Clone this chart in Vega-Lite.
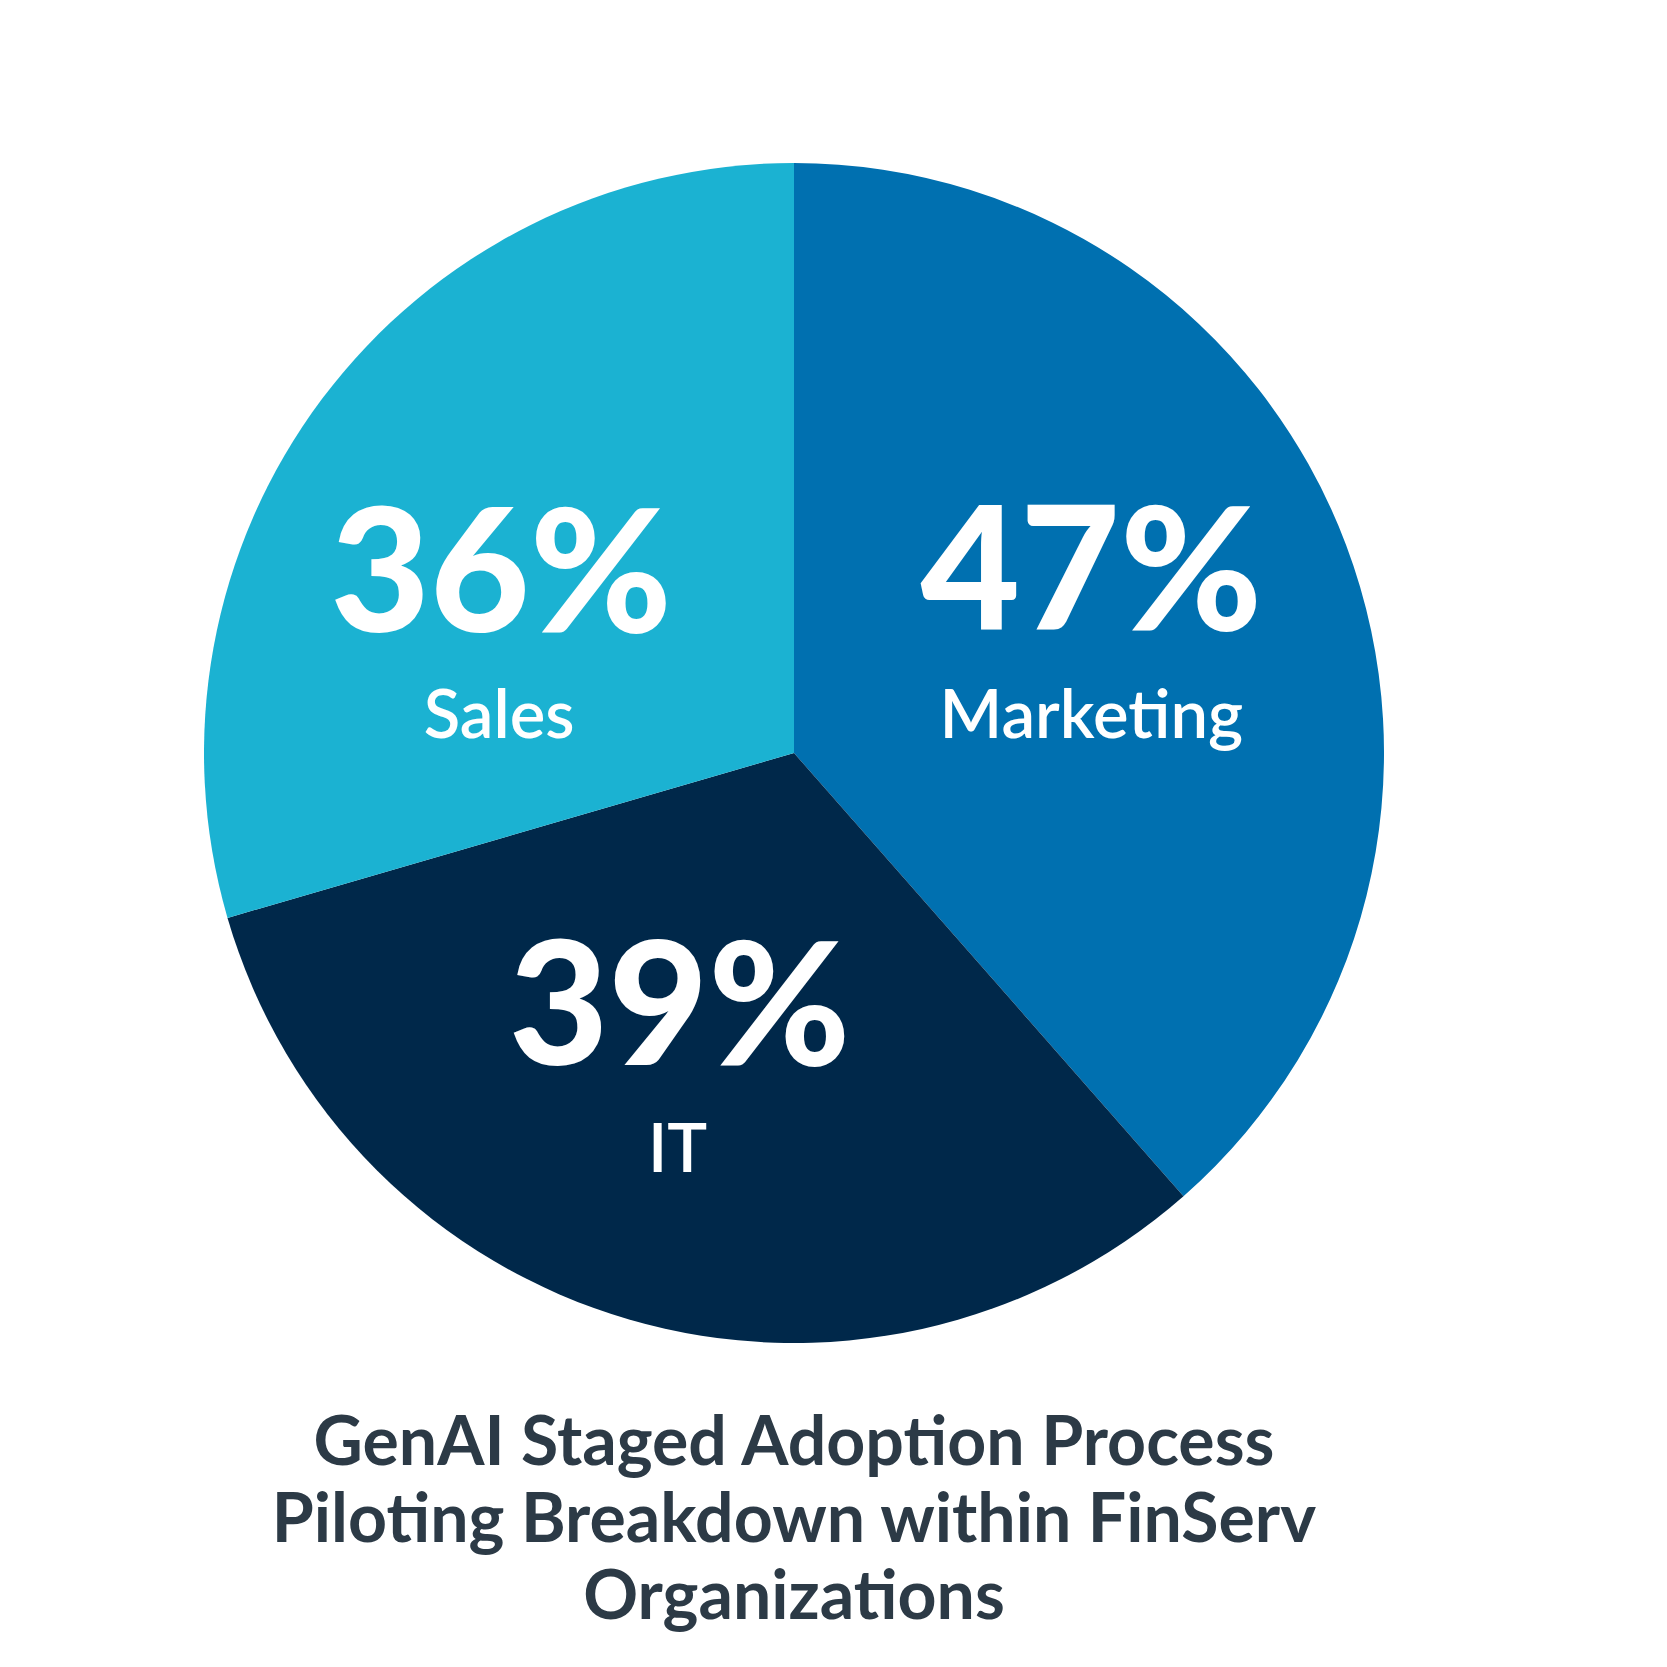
{
  "$schema": "https://vega.github.io/schema/vega-lite/v6.json",
  "width": 1180,
  "height": 1180,
  "padding": {"left": 204, "top": 163, "right": 0, "bottom": 0},
  "background": "white",
  "config": {"view": {"stroke": null}},
  "title": {
    "text": ["GenAI Staged Adoption Process", "Piloting Breakdown within FinServ", "Organizations"],
    "orient": "bottom",
    "anchor": "middle",
    "offset": 68,
    "font": "Lato",
    "fontSize": 68,
    "fontWeight": "bold",
    "lineHeight": 77,
    "color": "#2c3a46"
  },
  "data": {
    "values": [
      {"category": "Marketing", "pct": 0.47},
      {"category": "IT", "pct": 0.39},
      {"category": "Sales", "pct": 0.36}
    ]
  },
  "encoding": {
    "theta": {"field": "pct", "type": "quantitative", "stack": true},
    "order": {"field": "pct", "type": "quantitative", "sort": "descending"}
  },
  "layer": [
    {
      "mark": {"type": "arc", "stroke": null},
      "encoding": {
        "color": {
          "field": "category",
          "type": "nominal",
          "scale": {"domain": ["Marketing", "IT", "Sales"], "range": ["#0070b0", "#00284a", "#1bb2d2"]},
          "legend": null
        }
      }
    },
    {
      "mark": {"type": "text", "radius": 320, "dx": -2, "dy": -10, "font": "Lato", "fontSize": 172, "fontWeight": 900, "align": "center", "baseline": "alphabetic", "fill": "white"},
      "encoding": {"text": {"condition": {"test": "datum.category === 'Marketing'", "field": "pct", "format": ".0%"}, "value": ""}}
    },
    {
      "mark": {"type": "text", "radius": 320, "dx": -2, "dy": 98, "font": "Lato", "fontSize": 67, "fontWeight": 600, "align": "center", "baseline": "alphabetic", "fill": "white"},
      "encoding": {"text": {"condition": {"test": "datum.category === 'Marketing'", "field": "category"}, "value": ""}}
    },
    {
      "mark": {"type": "text", "radius": 320, "dx": -25, "dy": 5, "font": "Lato", "fontSize": 172, "fontWeight": 900, "align": "center", "baseline": "alphabetic", "fill": "white"},
      "encoding": {"text": {"condition": {"test": "datum.category === 'IT'", "field": "pct", "format": ".0%"}, "value": ""}}
    },
    {
      "mark": {"type": "text", "radius": 320, "dx": -27, "dy": 112, "font": "Lato", "fontSize": 67, "fontWeight": 600, "align": "center", "baseline": "alphabetic", "fill": "white"},
      "encoding": {"text": {"condition": {"test": "datum.category === 'IT'", "field": "category"}, "value": ""}}
    },
    {
      "mark": {"type": "text", "radius": 320, "dx": -37, "dy": 71, "font": "Lato", "fontSize": 172, "fontWeight": 900, "align": "center", "baseline": "alphabetic", "fill": "white"},
      "encoding": {"text": {"condition": {"test": "datum.category === 'Sales'", "field": "pct", "format": ".0%"}, "value": ""}}
    },
    {
      "mark": {"type": "text", "radius": 320, "dx": -39, "dy": 177, "font": "Lato", "fontSize": 67, "fontWeight": 600, "align": "center", "baseline": "alphabetic", "fill": "white"},
      "encoding": {"text": {"condition": {"test": "datum.category === 'Sales'", "field": "category"}, "value": ""}}
    }
  ]
}
